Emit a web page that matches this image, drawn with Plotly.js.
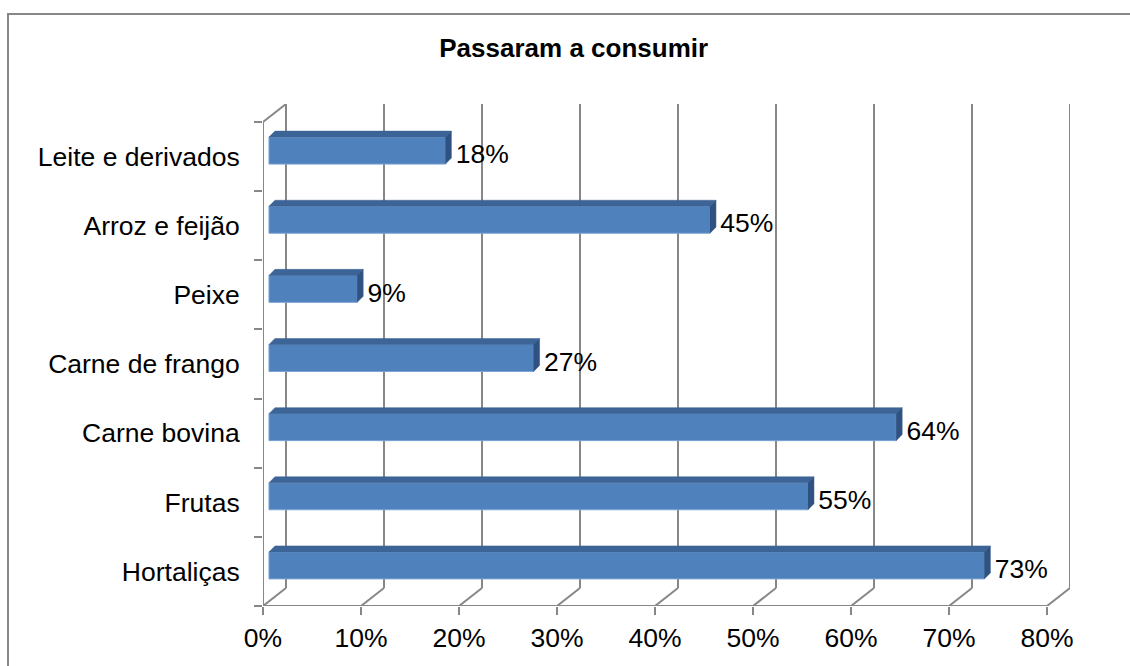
<!DOCTYPE html>
<html>
<head>
<meta charset="utf-8">
<script src="https://cdn.plot.ly/plotly-3.0.1.min.js"></script>
<style>
  html, body { margin: 0; padding: 0; background: #fff; overflow: hidden; }
  #wrap { position: relative; width: 1130px; height: 666px; }
  #chart { position: absolute; left: 0; top: 0; width: 1130px; height: 666px; }
  #frame { position: absolute; left: 7px; top: 13px; width: 1200px; height: 800px;
           border-left: 2px solid #878787; border-top: 2px solid #878787; pointer-events: none; }
</style>
</head>
<body>
<div id="wrap">
  <div id="chart"></div>
  <div id="frame"></div>
</div>
<script>
// ---- data (bottom to top) ----
const categories = ["Hortaliças", "Frutas", "Carne bovina", "Carne de frango", "Peixe", "Arroz e feijão", "Leite e derivados"];
const values = [73, 55, 64, 27, 9, 45, 18];
const xTicks = [0, 10, 20, 30, 40, 50, 60, 70, 80];
const xTickText = ["0%", "10%", "20%", "30%", "40%", "50%", "60%", "70%", "80%"];
const chartTitle = "Passaram a consumir";

// ---- 3D look parameters (data units) ----
const DX = 2.347;   // wall depth along x
const DY = 0.261;   // wall depth along y
const B0 = 0.61;    // bar front-face offset along x
const BY = 0.087;   // bar front-face offset along y
const BH = 0.195;   // half bar thickness
const BDX = 0.61;   // bar depth along x
const BDY = 0.087;  // bar depth along y
const LBL_GAP = 0.45; // gap between bar and its label
const XMAX = 80, YMIN = -0.5, YMAX = 6.5;

const idx = categories.map((_, i) => i);
const font = "Liberation Sans, Arial, sans-serif";
const grid = "#878787";
const FS = 26.5;

// top and right faces
const topX = [], topY = [], sideX = [], sideY = [];
values.forEach((v, i) => {
  const yc = i + BY, yt = yc + BH, yb = yc - BH, xr = B0 + v;
  topX.push(B0, xr, xr + BDX, B0 + BDX, B0, null);
  topY.push(yt, yt, yt + BDY, yt + BDY, yt, null);
  sideX.push(xr, xr, xr + BDX, xr + BDX, xr, null);
  sideY.push(yb, yt, yt + BDY, yb + BDY, yb, null);
});

const traces = [
  {
    type: "bar", orientation: "h",
    x: values, base: B0, y: idx.map(i => i + BY), width: 2 * BH,
    marker: { color: "#4f81bd", line: { color: "#7aa3d4", width: 1 } },
    hoverinfo: "skip", showlegend: false
  },
  {
    type: "scatter", mode: "lines", x: topX, y: topY, fill: "toself",
    fillcolor: "#3c6496", line: { color: "#3c6496", width: 0.5 },
    hoverinfo: "skip", showlegend: false
  },
  {
    type: "scatter", mode: "lines", x: sideX, y: sideY, fill: "toself",
    fillcolor: "#2f5282", line: { color: "#2f5282", width: 0.5 },
    hoverinfo: "skip", showlegend: false
  },
  {
    type: "scatter", mode: "text", yaxis: "y2",
    x: values.map(v => B0 + v + BDX + LBL_GAP), y: idx,
    text: values.map(v => v + "%"), textposition: "middle right",
    textfont: { family: font, size: FS, color: "#000" },
    hoverinfo: "skip", showlegend: false, cliponaxis: false
  }
];

// walls / gridlines built from tick positions
const shapes = [];
const ln = (x0, y0, x1, y1) => ({ type: "line", xref: "x", yref: "y", x0, y0, x1, y1,
  line: { color: grid, width: 2 }, layer: "below" });
xTicks.forEach(k => {
  shapes.push(ln(k + DX, YMIN + DY, k + DX, YMAX + DY)); // back wall gridline
  shapes.push(ln(k, YMIN, k + DX, YMIN + DY));           // floor line
});
shapes.push(ln(0, YMIN, 0, YMAX));             // left front edge
shapes.push(ln(0, YMIN, XMAX, YMIN));          // bottom front edge
shapes.push(ln(0, YMAX, DX, YMAX + DY));       // left wall top edge

const layout = {
  width: 1130, height: 666,
  margin: { l: 263, r: 60, t: 104, b: 60 },
  paper_bgcolor: "#fff", plot_bgcolor: "rgba(0,0,0,0)",
  title: {
    text: "<b>" + chartTitle + "</b>",
    font: { family: font, size: 26, color: "#000" },
    x: 0.5077, xref: "container", xanchor: "center",
    y: 1 - 48 / 666, yref: "container", yanchor: "middle"
  },
  xaxis: {
    range: [0, XMAX + DX], tickvals: xTicks, ticktext: xTickText,
    showgrid: false, zeroline: false, showline: false,
    ticks: "outside", ticklen: 8, tickwidth: 2, tickcolor: grid,
    tickfont: { family: font, size: FS, color: "#000" }, fixedrange: true
  },
  yaxis: {
    range: [YMIN, YMAX + DY], tickvals: idx, ticktext: categories,
    showgrid: false, zeroline: false, showline: false,
    ticks: "outside", ticklen: 17, tickcolor: "rgba(0,0,0,0)",
    tickfont: { family: font, size: FS, color: "#000" }, fixedrange: true
  },
  yaxis2: {
    overlaying: "y", side: "left", range: [YMIN, YMAX + DY],
    tickvals: idx.map(i => i - 0.5).concat([YMAX]),
    showticklabels: false, showgrid: false, zeroline: false, showline: false,
    ticks: "outside", ticklen: 8, tickwidth: 2, tickcolor: grid, fixedrange: true
  },
  shapes: shapes,
  showlegend: false
};

Plotly.newPlot("chart", traces, layout, { displayModeBar: false, staticPlot: true });
</script>
</body>
</html>
